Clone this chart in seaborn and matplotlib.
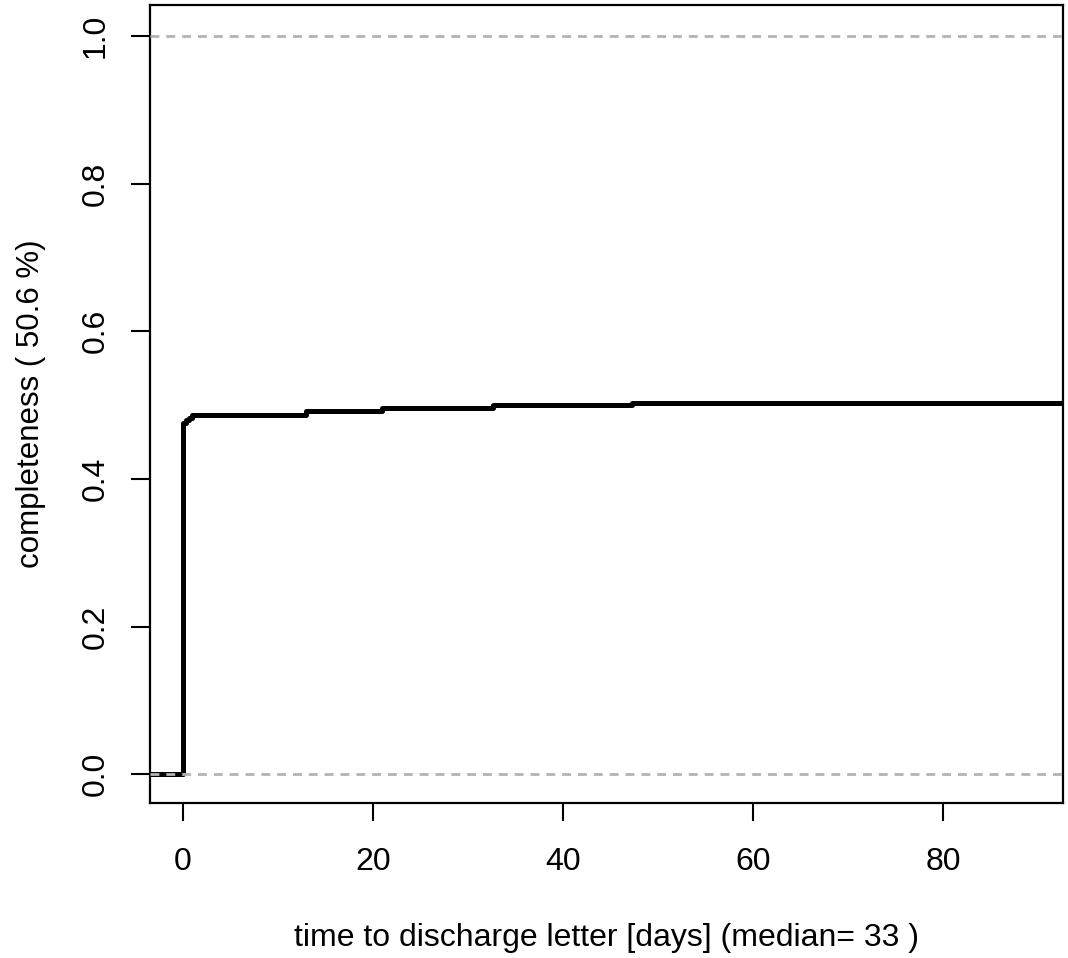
import numpy as np
import pandas as pd
import matplotlib
matplotlib.use("Agg")
import matplotlib.pyplot as plt
import seaborn as sns

# step points of the empirical completeness curve
days = [-3.5, 0.0, 0.3, 0.6, 1.0, 12.9, 20.9, 32.6, 47.2, 92.6]
completeness = [0.0, 0.476, 0.480, 0.483, 0.486, 0.492, 0.496, 0.500, 0.503, 0.503]
ref_levels = [0.0, 1.0]
x_ticks = [0, 20, 40, 60, 80]
y_ticks = [0.0, 0.2, 0.4, 0.6, 0.8, 1.0]

sns.set_style("white")
plt.rcParams['font.family'] = ['Liberation Sans', 'DejaVu Sans']
plt.rcParams['text.color'] = 'black'
plt.rcParams['axes.labelcolor'] = 'black'
plt.rcParams['xtick.color'] = 'black'
plt.rcParams['ytick.color'] = 'black'

fig = plt.figure(figsize=(10.68, 9.58), dpi=100)
ax = fig.add_axes([150 / 1068, 1 - 803 / 958, 913 / 1068, 798 / 958])

df = pd.DataFrame({"days": days, "completeness": completeness})
sns.lineplot(data=df, x="days", y="completeness", ax=ax, color="black",
             linewidth=3.6, drawstyle="steps-post", estimator=None, sort=False,
             zorder=2)

for lv in ref_levels:
    ax.axhline(lv, color="#b3b3b3", linewidth=2, linestyle=(0, (3.2, 2.5)), zorder=3)

ax.set_xlim(-3.47, 92.6)
ax.set_ylim(-0.039, 1.042)
ax.set_xticks(x_ticks)
ax.set_yticks(y_ticks)
ax.set_xticklabels([str(v) for v in x_ticks], fontsize=23)
ax.set_yticklabels([f"{v:.1f}" for v in y_ticks], fontsize=23, rotation=90, va="center")
ax.tick_params(axis="x", direction="out", length=13, width=1.5, bottom=True, pad=19)
ax.tick_params(axis="y", direction="out", length=14, width=1.5, left=True, pad=14)

for s in ax.spines.values():
    s.set_color("black")
    s.set_linewidth(1.6)

ax.set_xlabel("time to discharge letter [days] (median= 33 )", fontsize=23, va="center")
ax.set_ylabel("completeness ( 50.6 %)", fontsize=22.5, va="center")
ax.xaxis.set_label_coords(0.5, (803 - 938) / 798)
ax.yaxis.set_label_coords((31 - 150) / 913, 0.5)

fig.savefig("out.png", dpi=100)
